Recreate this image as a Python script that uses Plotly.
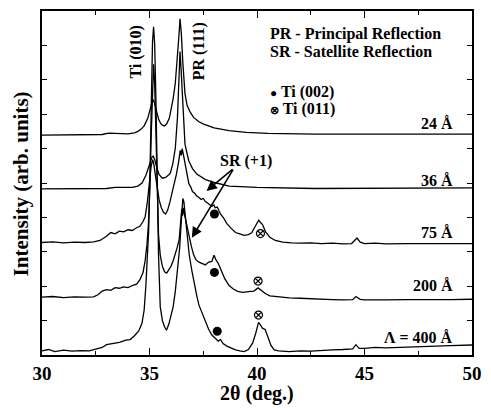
import plotly.graph_objects as go

# ---------------- data ----------------
x_24 = [30.0, 31.0, 32.0, 32.8, 33.1, 33.5, 34.0, 34.3, 34.46, 34.6, 34.75, 34.92, 35.02, 35.1, 35.15,
        35.22, 35.32, 35.42, 35.51, 35.6, 35.7, 35.8, 35.92, 36.0, 36.1, 36.2, 36.3, 36.36, 36.42, 36.48,
        36.55, 36.65, 36.75, 36.9, 37.06, 37.3, 37.52, 38.0, 38.7, 39.5, 40.5, 42.67, 46.0, 50.0]
y_24 = [6.39, 6.40, 6.40, 6.41, 6.45, 6.44, 6.43, 6.46, 6.50, 6.56, 6.66, 6.88, 7.12, 7.36, 7.43,
        7.35, 7.08, 6.86, 6.74, 6.68, 6.66, 6.72, 6.88, 7.10, 7.45, 7.90, 8.60, 9.20, 9.77, 9.35,
        8.50, 7.60, 7.25, 7.05, 6.90, 6.78, 6.71, 6.60, 6.52, 6.47, 6.44, 6.42, 6.42, 6.42]

x_36 = [30.0, 31.0, 32.0, 33.0, 33.4, 33.8, 34.2, 34.46, 34.65, 34.83, 34.95, 35.05, 35.12, 35.18,
        35.25, 35.35, 35.45, 35.6, 35.75, 35.9, 35.97, 36.08, 36.2, 36.3, 36.37, 36.42, 36.47, 36.55,
        36.65, 36.75, 36.83, 37.0, 37.2, 37.6, 38.11, 38.7, 40.0, 42.67, 50.0]
y_36 = [4.83, 4.83, 4.84, 4.84, 4.87, 4.86, 4.87, 4.91, 5.00, 5.22, 5.45, 5.66, 5.76, 5.78,
        5.66, 5.42, 5.24, 5.14, 5.16, 5.24, 5.29, 5.55, 6.01, 6.90, 7.90, 8.82, 8.30, 7.20,
        6.13, 5.85, 5.64, 5.42, 5.26, 5.10, 5.00, 4.91, 4.87, 4.84, 4.86]

x_75 = [30.0, 30.5, 31.0, 31.5, 32.0, 32.4, 32.7, 33.0, 33.2, 33.4, 33.6, 33.8, 34.0, 34.2, 34.4,
        34.55, 34.7, 34.8, 34.9, 35.0, 35.08, 35.15, 35.2, 35.28, 35.35, 35.45, 35.55, 35.65, 35.75,
        35.85, 35.95, 36.05, 36.15, 36.25, 36.35, 36.43, 36.48, 36.52, 36.57, 36.65, 36.74, 36.83,
        36.92, 37.0, 37.1, 37.2, 37.3, 37.4, 37.5, 37.6, 37.7, 37.8, 37.9, 38.0, 38.05, 38.15, 38.3,
        38.45, 38.6, 38.8, 39.0, 39.2, 39.4, 39.6, 39.75, 39.9, 40.0, 40.08, 40.15, 40.25, 40.4, 40.6,
        40.85, 41.2, 41.6, 42.0, 42.5, 43.0, 43.5, 44.0, 44.4, 44.55, 44.65, 44.8, 45.0, 45.5, 46.0,
        47.0, 48.0, 49.0, 50.0]
y_75 = [3.27, 3.29, 3.26, 3.28, 3.27, 3.29, 3.33, 3.45, 3.56, 3.52, 3.60, 3.58, 3.64, 3.62, 3.70,
        3.74, 3.88, 4.02, 4.45, 5.10, 5.50, 5.68, 5.55, 5.20, 4.85, 4.50, 4.28, 4.15, 4.10,
        4.22, 4.45, 4.70, 4.95, 5.25, 5.60, 5.95, 5.80, 6.00, 5.85, 5.55, 5.22, 4.98,
        4.88, 4.75, 4.70, 4.62, 4.58, 4.52, 4.55, 4.46, 4.42, 4.38, 4.32, 4.36, 4.28, 4.30, 4.10,
        3.98, 3.82, 3.68, 3.56, 3.52, 3.48, 3.50, 3.55, 3.72, 3.82, 3.92, 3.86, 3.80, 3.58, 3.42,
        3.33, 3.28, 3.26, 3.25, 3.26, 3.24, 3.25, 3.23, 3.24, 3.32, 3.40, 3.28, 3.24, 3.25, 3.23,
        3.24, 3.24, 3.23, 3.24]

x_200 = [30.0, 30.5, 31.0, 31.5, 32.0, 32.4, 32.6, 32.8, 33.0, 33.2, 33.4, 33.6, 33.8, 34.0, 34.2,
         34.4, 34.55, 34.7, 34.8, 34.88, 34.95, 35.02, 35.08, 35.14, 35.19, 35.24, 35.3, 35.36, 35.42,
         35.5, 35.6, 35.7, 35.8, 35.9, 36.0, 36.1, 36.2, 36.3, 36.38, 36.44, 36.5, 36.54, 36.58, 36.64,
         36.72, 36.83, 36.95, 37.05, 37.15, 37.3, 37.45, 37.6, 37.75, 37.9, 38.0, 38.08, 38.2, 38.35,
         38.5, 38.7, 38.9, 39.1, 39.35, 39.6, 39.85, 40.05, 40.2, 40.4, 40.6, 41.0, 41.5, 42.0, 42.5,
         43.0, 43.5, 44.0, 44.45, 44.6, 44.8, 45.0, 45.5, 46.0, 47.0, 48.0, 49.0, 50.0]
y_200 = [1.68, 1.70, 1.67, 1.69, 1.68, 1.69, 1.75, 1.86, 1.90, 1.88, 1.96, 1.94, 1.98, 1.96, 2.02,
         2.06, 2.18, 2.40, 2.75, 3.20, 3.80, 4.90, 6.40, 7.90, 8.45, 7.90, 6.30, 4.60, 3.50,
         2.90, 2.58, 2.42, 2.38, 2.48, 2.58, 2.74, 2.92, 3.15, 3.35, 3.80, 4.25, 4.05, 4.28, 4.05,
         3.80, 3.50, 3.15, 2.92, 2.78, 2.70, 2.66, 2.62, 2.70, 2.72, 2.90, 2.78, 2.66, 2.45,
         2.22, 2.02, 1.92, 1.85, 1.82, 1.84, 1.86, 1.95, 1.88, 1.78, 1.72, 1.69, 1.66, 1.65, 1.63,
         1.62, 1.61, 1.60, 1.61, 1.70, 1.62, 1.60, 1.61, 1.60, 1.61, 1.60, 1.61, 1.62]

x_400 = [30.0, 30.3, 30.6, 31.0, 31.4, 31.8, 32.2, 32.5, 32.8, 33.0, 33.3, 33.6, 33.9, 34.1, 34.3,
         34.5, 34.65, 34.75, 34.83, 34.9, 34.96, 35.02, 35.08, 35.14, 35.19, 35.24, 35.3, 35.36, 35.42,
         35.5, 35.6, 35.7, 35.79, 35.9, 36.0, 36.1, 36.2, 36.3, 36.4, 36.48, 36.55, 36.6, 36.66, 36.74,
         36.85, 36.97, 37.1, 37.2, 37.3, 37.45, 37.6, 37.75, 37.9, 38.05, 38.2, 38.3, 38.42, 38.6, 38.8,
         39.0, 39.2, 39.4, 39.6, 39.8, 39.95, 40.07, 40.15, 40.25, 40.38, 40.5, 40.65, 40.8, 41.0, 41.5,
         42.0, 42.5, 43.0, 43.5, 44.0, 44.45, 44.6, 44.75, 45.0, 45.5, 46.0, 47.0, 48.0, 49.0, 50.0]
y_400 = [0.12, 0.16, 0.10, 0.14, 0.11, 0.13, 0.12, 0.16, 0.22, 0.30, 0.33, 0.37, 0.43, 0.45, 0.56,
         0.70, 0.92, 1.30, 2.00, 2.80, 3.60, 5.20, 7.20, 9.10, 9.54, 9.05, 7.40, 4.80, 2.90,
         1.40, 1.00, 0.82, 0.72, 0.90, 1.12, 1.40, 1.85, 2.40, 3.10, 3.90, 4.55, 4.45, 4.05, 3.40,
         2.90, 2.45, 2.00, 1.72, 1.45, 1.20, 0.98, 0.75, 0.58, 0.48, 0.40, 0.45, 0.33, 0.26, 0.20,
         0.15, 0.12, 0.10, 0.16, 0.35, 0.65, 0.95, 0.88, 0.78, 0.74, 0.55, 0.28, 0.15, 0.12, 0.10,
         0.12, 0.11, 0.14, 0.15, 0.16, 0.18, 0.30, 0.19, 0.19, 0.22, 0.21, 0.24, 0.25, 0.27, 0.29]

# peak markers
ti002_x = [38.02, 38.02, 38.15]
ti002_y = [4.10, 2.40, 0.69]
ti011_x = [40.16, 40.05, 40.07]
ti011_y = [3.53, 2.15, 1.16]

curve_labels = ["24 Å", "36 Å", "75 Å", "200 Å", "Λ = 400 Å"]
curve_label_y = [6.73, 5.06, 3.55, 2.02, 0.52]

FONT = "Liberation Serif, Times New Roman, serif"

fig = go.Figure()
for xs, ys in [(x_24, y_24), (x_36, y_36), (x_75, y_75), (x_200, y_200), (x_400, y_400)]:
    fig.add_trace(go.Scatter(x=xs, y=ys, mode="lines",
                             line=dict(color="black", width=1.3), showlegend=False,
                             hoverinfo="skip"))

fig.add_trace(go.Scatter(x=ti002_x, y=ti002_y, mode="markers",
                         marker=dict(symbol="circle", size=9, color="black"), showlegend=False))
fig.add_trace(go.Scatter(x=ti011_x, y=ti011_y, mode="markers",
                         marker=dict(symbol="circle-x-open", size=8, color="black",
                                     line=dict(width=1.2, color="black")), showlegend=False))

ann = []
for t, yy in zip(curve_labels, curve_label_y):
    ann.append(dict(x=0.961, xref="paper", y=yy, yref="y", text="<b>%s</b>" % t,
                    showarrow=False, xanchor="right", yanchor="middle",
                    font=dict(family=FONT, size=16, color="black")))

legend_lines = [("PR - Principal Reflection", 9.34), ("SR - Satellite Reflection", 8.82),
                ("<span style='font-size:12px'>●</span> Ti (002)", 7.66),
                ("<span style='font-size:11px'>⊗</span> Ti (011)", 7.14)]
for t, yy in legend_lines:
    ann.append(dict(x=0.526, xref="paper", y=yy, yref="y", text="<b>%s</b>" % t,
                    showarrow=False, xanchor="left", yanchor="middle",
                    font=dict(family=FONT, size=16, color="black")))

# rotated peak labels
ann.append(dict(x=34.37, y=8.82, text="<b>Ti (010)</b>", showarrow=False, textangle=-90,
                font=dict(family=FONT, size=16, color="black")))
ann.append(dict(x=37.29, y=8.82, text="<b>PR (111)</b>", showarrow=False, textangle=-90,
                font=dict(family=FONT, size=16, color="black")))

# SR (+1) label and arrows
ann.append(dict(x=39.48, y=5.64, text="<b>SR (+1)</b>", showarrow=False,
                font=dict(family=FONT, size=16, color="black")))
for hx, hy in [(37.65, 4.77), (36.97, 3.41)]:
    ann.append(dict(x=hx, y=hy, ax=38.93, ay=5.43, axref="x", ayref="y", text="",
                    showarrow=True, arrowhead=2, arrowsize=1.3, arrowwidth=1.6,
                    arrowcolor="black"))

# axis titles
ann.append(dict(x=-0.048, xref="paper", y=0.497, yref="paper", text="<b>Intensity (arb. units)</b>",
                showarrow=False, textangle=-90, xanchor="center", yanchor="middle",
                font=dict(family=FONT, size=21, color="black")))
ann.append(dict(x=0.5, xref="paper", y=-0.113, yref="paper", text="<b>2θ (deg.)</b>",
                showarrow=False, xanchor="center", yanchor="middle",
                font=dict(family=FONT, size=20, color="black")))

fig.update_layout(
    width=491, height=408,
    margin=dict(l=42, r=10, t=9, b=53),
    plot_bgcolor="white", paper_bgcolor="white",
    annotations=ann,
    showlegend=False,
)
fig.update_xaxes(range=[30, 50], dtick=5, tick0=30, ticks="inside", ticklen=7, tickwidth=1.2,
                 tickcolor="black", showline=True, linecolor="black", linewidth=2,
                 mirror="allticks", showgrid=False, zeroline=False,
                 minor=dict(dtick=2.5, ticks="inside", ticklen=4, tickcolor="black", showgrid=False),
                 tickfont=dict(family=FONT, size=19, color="black"),
                 tickprefix="<b>", ticksuffix="</b>")
fig.update_yaxes(range=[0, 10], dtick=1, ticks="inside", ticklen=5, tickwidth=1.2,
                 tickcolor="black", showline=True, linecolor="black", linewidth=2,
                 mirror="allticks", showgrid=False, zeroline=False, showticklabels=False)

fig.write_html("out.html")
